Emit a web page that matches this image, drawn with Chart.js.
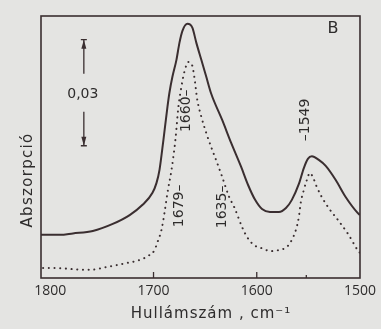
<!DOCTYPE html>
<html><head><meta charset="utf-8">
<script src="https://cdn.jsdelivr.net/npm/chart.js@4/dist/chart.umd.min.js"></script>
<style>html,body{margin:0;padding:0;background:#e4e4e2;}canvas{display:block;}</style>
</head><body>
<canvas id="c" width="381" height="329"></canvas>
<script>
// Wavenumber (cm-1) and absorbance
const solidWavenumber = [1809, 1790.6, 1778.1, 1758.8, 1739.5, 1723.1, 1710.6, 1701, 1697.1, 1694.2, 1690.4, 1686.5, 1684.6, 1681.7, 1677.8, 1674.9, 1672, 1667.2, 1662.4, 1658.5, 1653.7, 1648.9, 1644.1, 1633.5, 1624.8, 1615.1, 1608.4, 1601.6, 1594.9, 1587.2, 1578.5, 1571.7, 1566, 1559.2, 1554.4, 1550.5, 1546.6, 1539.9, 1533.2, 1523.5, 1513.9, 1502.3, 1500];
const solidAbsorbance = [0.0122, 0.0122, 0.0126, 0.0133, 0.0153, 0.0178, 0.0207, 0.0241, 0.0269, 0.0306, 0.0391, 0.0484, 0.0524, 0.0569, 0.0617, 0.0665, 0.0699, 0.0719, 0.0708, 0.0665, 0.0617, 0.0569, 0.0521, 0.0447, 0.0382, 0.0314, 0.0263, 0.0221, 0.0195, 0.0187, 0.0187, 0.0198, 0.0221, 0.0266, 0.0311, 0.0337, 0.0344, 0.0334, 0.0317, 0.0277, 0.0229, 0.0184, 0.0178];
const dottedWavenumber = [1807, 1793.5, 1778.1, 1761.7, 1745.3, 1729.9, 1713.5, 1703.9, 1699, 1696.1, 1692.3, 1689.4, 1686.5, 1682.6, 1678.8, 1675.9, 1673, 1670.1, 1666.2, 1662.4, 1660.5, 1657.6, 1653.7, 1648.9, 1643.1, 1638.3, 1633.5, 1626.7, 1621.9, 1614.2, 1609.4, 1602.6, 1595.9, 1586.2, 1578.5, 1570.8, 1566, 1562.1, 1559.2, 1557.3, 1554.4, 1551.5, 1548.6, 1545.7, 1541.9, 1537, 1530.3, 1520.6, 1511, 1502.3, 1500];
const dottedAbsorbance = [0.0028, 0.0028, 0.0025, 0.0023, 0.0031, 0.0040, 0.0051, 0.0065, 0.0079, 0.0102, 0.0136, 0.0184, 0.0241, 0.0306, 0.0391, 0.0484, 0.0541, 0.0583, 0.0611, 0.0600, 0.0569, 0.0504, 0.0456, 0.0410, 0.0362, 0.0325, 0.0286, 0.0229, 0.0201, 0.0144, 0.0116, 0.0093, 0.0085, 0.0076, 0.0079, 0.0088, 0.0108, 0.0136, 0.0173, 0.0215, 0.0249, 0.0277, 0.0297, 0.0286, 0.0258, 0.0229, 0.0198, 0.0161, 0.0122, 0.0079, 0.0071];
const xTickValues = [1800, 1700, 1600, 1500];
const bandLabels = ['1679–', '1660–', '1635–', '–1549'];
const bandLabelWavenumber = [1675, 1668.2, 1633.5, 1553.4];
const scaleBarValue = 0.03;
const panelLetter = 'B';
const xTitle = 'Hullámszám , cm⁻¹';
const yTitle = 'Abszorpció';

const INK = '#3a2e30';
const TXT = '#2e2c2c';

function toPts(xs, ys){ return xs.map((x,i)=>({x:x, y:ys[i]})); }

const annot = {
  id: 'annot',
  beforeDraw(chart){
    const ctx = chart.ctx;
    ctx.save(); ctx.fillStyle = '#e4e4e2'; ctx.fillRect(0,0,chart.width,chart.height); ctx.restore();
  },
  afterDraw(chart){
    const ctx = chart.ctx, a = chart.chartArea, xs = chart.scales.x, ys = chart.scales.y;
    ctx.save();
    // frame
    ctx.strokeStyle = INK; ctx.lineWidth = 1.6;
    ctx.strokeRect(a.left, a.top, a.right - a.left, a.bottom - a.top);
    // inward ticks
    ctx.lineWidth = 1.3;
    [1700, 1600].forEach(v=>{ const px = xs.getPixelForValue(v); ctx.beginPath(); ctx.moveTo(px, a.bottom); ctx.lineTo(px, a.bottom-6); ctx.stroke(); });
    { const px = xs.getPixelForValue(1552); ctx.beginPath(); ctx.moveTo(px, a.bottom); ctx.lineTo(px, a.bottom-3); ctx.stroke(); }
    // band labels (rotated)
    ctx.fillStyle = TXT; ctx.font = '14px "DejaVu Sans"'; ctx.textAlign='center'; ctx.textBaseline='middle';
    const labY = [0.0204, 0.0473, 0.0201, 0.0447];
    bandLabels.forEach((t,i)=>{
      ctx.save();
      ctx.translate(xs.getPixelForValue(bandLabelWavenumber[i]), ys.getPixelForValue(labY[i]));
      ctx.rotate(-Math.PI/2); ctx.fillText(t, 0, 0); ctx.restore();
    });
    // panel letter
    ctx.font = '16px "DejaVu Sans"'; ctx.fillText(panelLetter, 333, 29);
    // scale bar
    const bx = xs.getPixelForValue(1767.5);
    const y0 = ys.getPixelForValue(0.0374), y1 = ys.getPixelForValue(0.0374 + scaleBarValue);
    const ym = (y0 + y1)/2;
    ctx.lineWidth = 1.3;
    ctx.beginPath(); ctx.moveTo(bx, y1); ctx.lineTo(bx, ym-19); ctx.stroke();
    ctx.beginPath(); ctx.moveTo(bx, ym+19); ctx.lineTo(bx, y0); ctx.stroke();
    ctx.beginPath(); ctx.moveTo(bx-3, y1); ctx.lineTo(bx+3, y1); ctx.moveTo(bx-3, y0); ctx.lineTo(bx+3, y0); ctx.stroke();
    ctx.fillStyle = INK;
    ctx.beginPath(); ctx.moveTo(bx, y1); ctx.lineTo(bx-2.5, y1+9); ctx.lineTo(bx+2.5, y1+9); ctx.closePath(); ctx.fill();
    ctx.beginPath(); ctx.moveTo(bx, y0); ctx.lineTo(bx-2.5, y0-9); ctx.lineTo(bx+2.5, y0-9); ctx.closePath(); ctx.fill();
    ctx.fillStyle = TXT; ctx.font = '14px "DejaVu Sans"';
    ctx.fillText(scaleBarValue.toFixed(2).replace('.', ','), bx-1, ym+2);
    // axis titles
    ctx.font = '15px "DejaVu Sans"';
    try { ctx.letterSpacing = '1px'; } catch(e){}
    ctx.fillText(xTitle, 211, 314);
    try { ctx.letterSpacing = '1.3px'; } catch(e){}
    ctx.save(); ctx.translate(28, 180); ctx.rotate(-Math.PI/2); ctx.fillText(yTitle, 0, 0); ctx.restore();
    ctx.restore();
  }
};

new Chart(document.getElementById('c'), {
  type: 'line',
  data: {
    datasets: [
      { data: toPts(solidWavenumber, solidAbsorbance), borderColor: INK, borderWidth: 2, pointRadius: 0, fill: false, cubicInterpolationMode: 'monotone' },
      { data: toPts(dottedWavenumber, dottedAbsorbance), borderColor: INK, borderWidth: 2, borderDash: [0.1, 5.6], borderCapStyle: 'round', pointRadius: 0, fill: false, cubicInterpolationMode: 'monotone' }
    ]
  },
  options: {
    responsive: false, animation: false, devicePixelRatio: 1,
    layout: { padding: { left: 41, right: 20, top: 16, bottom: 0 } },
    plugins: { legend: { display: false }, tooltip: { enabled: false } },
    scales: {
      x: {
        type: 'linear', reverse: true, min: 1500, max: 1809,
        afterFit(s){ s.height = 51; },
        afterBuildTicks(s){ s.ticks = xTickValues.map(v=>({value:v})); },
        grid: { display: false, drawTicks: false },
        border: { display: false },
        ticks: { font: { size: 14, family: '"Open Sans"' }, color: TXT, maxRotation: 0, padding: 5, autoSkip: false, callback: v => String(v) }
      },
      y: { display: false, min: 0, max: 0.0741 }
    }
  },
  plugins: [annot]
});
</script>
</body></html>
